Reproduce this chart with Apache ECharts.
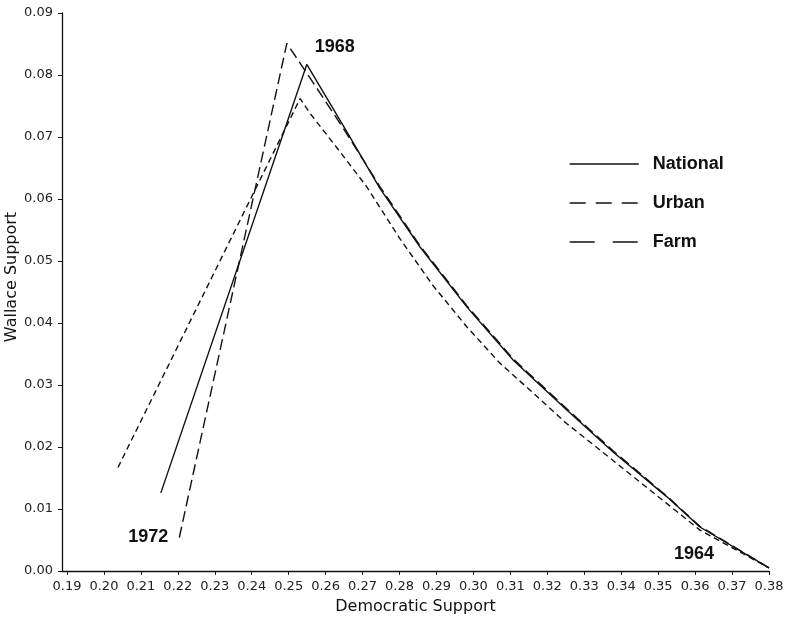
<!DOCTYPE html>
<html>
<head>
<meta charset="utf-8">
<script src="https://cdn.jsdelivr.net/npm/echarts@6/dist/echarts.min.js"></script>
<style>html,body{margin:0;padding:0;background:#fff;}#c{width:786px;height:624px;}</style>
</head>
<body>
<div id="c"></div>
<script>
// Data
var xTicks = [0.19,0.20,0.21,0.22,0.23,0.24,0.25,0.26,0.27,0.28,0.29,0.30,0.31,0.32,0.33,0.34,0.35,0.36,0.37,0.38];
var yTicks = [0.00,0.01,0.02,0.03,0.04,0.05,0.06,0.07,0.08,0.09];

var nationalX = [0.2154,0.2549,0.2650,0.2747,0.2855,0.2982,0.3108,0.3252,0.3378,0.3523,0.3613,0.3800];
var nationalY = [0.0126,0.0817,0.0716,0.0617,0.0523,0.0426,0.0340,0.0260,0.0192,0.0120,0.0071,0.0005];

var urbanX = [0.2038,0.2531,0.2558,0.2621,0.2711,0.2801,0.2891,0.2982,0.3072,0.3162,0.3252,0.3343,0.3433,0.3523,0.3613,0.3800];
var urbanY = [0.0167,0.0762,0.0738,0.0690,0.0620,0.0536,0.0460,0.0394,0.0335,0.0287,0.0238,0.0195,0.0152,0.0109,0.0066,0.0005];

var farmX = [0.2204,0.2495,0.2567,0.2650,0.2747,0.2855,0.2982,0.3108,0.3252,0.3378,0.3523,0.3613,0.3800];
var farmY = [0.0054,0.0851,0.0787,0.0712,0.0620,0.0525,0.0428,0.0342,0.0262,0.0194,0.0121,0.0072,0.0005];

var seriesNames = ['National','Urban','Farm'];
var yearLabels = [
  {text:'1968', series:0, index:1, dx:28, dy:-17},
  {text:'1972', series:2, index:0, dx:-31, dy:0},
  {text:'1964', series:0, index:11, dx:-75, dy:-14}
];

function pairs(xs, ys){ return xs.map(function(x,i){ return [x, ys[i]]; }); }

var ink = '#111';
var chart = echarts.init(document.getElementById('c'), null, {renderer:'canvas'});
var allData = [pairs(nationalX,nationalY), pairs(urbanX,urbanY), pairs(farmX,farmY)];
var dashes = ['solid', [6,4], [11,5]];
var legendDashes = ['solid', [16,10], [25,18]];

var option = {
  animation: false,
  backgroundColor: '#fff',
  grid: {left: 62, right: 17, top: 13, bottom: 53, containLabel: false, outerBoundsMode: 'none'},
  legend: {
    orient: 'vertical',
    left: 564, top: 150,
    itemWidth: 69, itemHeight: 14, itemGap: 21,
    itemStyle: {color: 'rgba(0,0,0,0)', borderWidth: 0, opacity: 0},
    textStyle: {fontFamily: 'Liberation Sans', fontWeight: 'bold', fontSize: 18, color: ink, padding: [0,0,0,9]},
    data: seriesNames.map(function(n,i){
      return {name: n, itemStyle: {opacity: 0}, lineStyle: {type: legendDashes[i], width: 1.4, color: ink, opacity: 1}};
    })
  },
  xAxis: {
    type: 'value',
    min: 0.18865, max: 0.38,
    name: 'Democratic Support',
    nameLocation: 'middle', nameGap: 28, nameMoveOverlap: false,
    nameTextStyle: {fontFamily: 'DejaVu Sans', fontSize: 16, color: ink},
    splitLine: {show: false},
    axisLine: {show: true, onZero: false, lineStyle: {color: ink, width: 1.3}},
    axisTick: {show: true, length: 4, customValues: xTicks, lineStyle: {color: ink}},
    axisLabel: {customValues: xTicks, margin: 9, fontFamily: 'DejaVu Sans', fontSize: 13, color: '#222',
      formatter: function(v){ return v.toFixed(2); }}
  },
  yAxis: {
    type: 'value',
    min: 0, max: 0.09, interval: 0.01,
    name: 'Wallace Support',
    nameLocation: 'middle', nameGap: 42, nameMoveOverlap: false,
    nameTextStyle: {fontFamily: 'DejaVu Sans', fontSize: 16, color: ink, padding: [0,0,0,30]},
    splitLine: {show: false},
    axisLine: {show: true, lineStyle: {color: ink, width: 1.3}},
    axisTick: {show: true, length: 4, lineStyle: {color: ink}},
    axisLabel: {margin: 9, fontFamily: 'DejaVu Sans', fontSize: 13, color: '#222',
      formatter: function(v){ return v.toFixed(2); }}
  },
  series: seriesNames.map(function(n,i){
    return {
      name: n, type: 'line', data: allData[i],
      symbol: 'none', showSymbol: false, smooth: false,
      lineStyle: {color: ink, width: 1.4, type: dashes[i]},
      itemStyle: {color: ink},
      z: 3 - i
    };
  })
};
chart.setOption(option);

var gtexts = yearLabels.map(function(l){
  var p = chart.convertToPixel({gridIndex: 0}, allData[l.series][l.index]);
  return {
    type: 'text',
    x: p[0] + l.dx, y: p[1] + l.dy,
    style: {text: l.text, align: 'center', verticalAlign: 'middle',
      font: 'bold 18px "Liberation Sans"', fill: ink}
  };
});
chart.setOption({graphic: gtexts});
</script>
</body>
</html>
